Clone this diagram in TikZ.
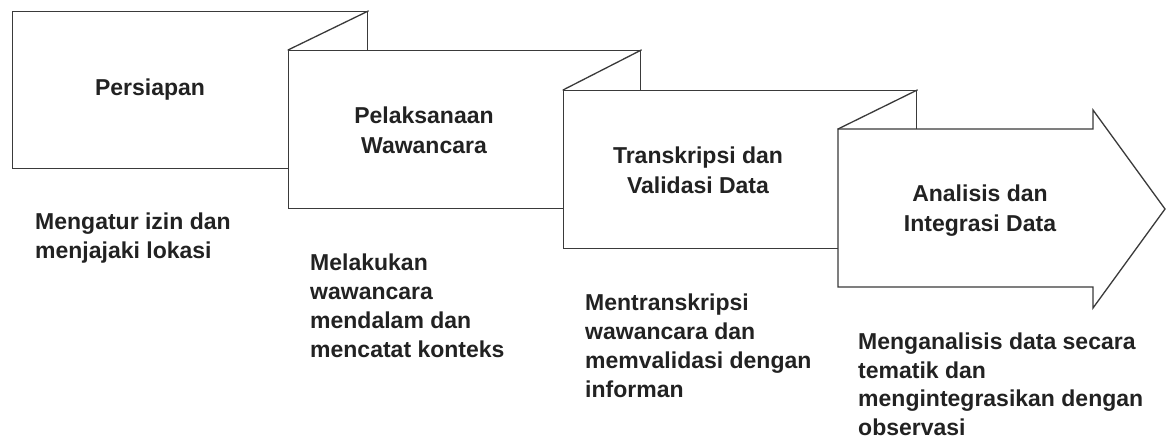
\documentclass[tikz,border=0pt]{standalone}
\usepackage{fontspec}
\setmainfont{Liberation Sans}
\definecolor{linec}{HTML}{3A3A3A}
\definecolor{textc}{HTML}{222222}
\begin{document}
\begin{tikzpicture}[x=1pt,y=-1pt,
  panel/.style={draw=linec, line width=1.3pt, fill=white, rectangle, inner sep=0pt, anchor=north west},
  fold/.style={draw=linec, line width=1.3pt, line cap=round},
  title/.style={font=\bfseries\fontsize{23}{30}\selectfont, text=textc, align=center, inner sep=0pt},
  desc/.style={font=\bfseries\fontsize{23}{29}\selectfont, text=textc, align=left, anchor=north west, inner sep=0pt},
  desclast/.style={desc, font=\bfseries\fontsize{23}{28.5}\selectfont},
]
\useasboundingbox (0,0) rectangle (1166,441);
% panels
\node[panel, minimum width=355pt, minimum height=157pt] (b1) at (12,11) {};
\node[panel, minimum width=352pt, minimum height=158pt] (b2) at (288,50) {};
\draw[fold] (b1.north east) -- (b2.north west);
\node[panel, minimum width=353pt, minimum height=158pt] (b3) at (563,90) {};
\draw[fold] (b2.north east) -- (b3.north west);
% arrow panel
\coordinate (a1) at (838,129);
\coordinate (a2) at (1093,129);
\coordinate (a3) at (1093,110);
\coordinate (a4) at (1165,209);
\coordinate (a5) at (1093,308);
\coordinate (a6) at (1093,287);
\coordinate (a7) at (838,287);
\draw[draw=linec, line width=1.3pt, fill=white, line join=miter] (a1) -- (a2) -- (a3) -- (a4) -- (a5) -- (a6) -- (a7) -- cycle;
\draw[fold] (b3.north east) -- (a1);
% titles
\node[title] (t1) at (150,90) {Persiapan};
\node[title] (t2) at (424,130) {Pelaksanaan\\Wawancara};
\node[title] (t3) at (698,170) {Transkripsi dan\\Validasi Data};
\node[title] (t4) at (980,211) {Analisis dan\\Integrasi Data};
% descriptions
\node[desc] (d1) at (35,213) {Mengatur izin dan\\menjajaki lokasi};
\node[desc] (d2) at (310,254) {Melakukan\\wawancara\\mendalam dan\\mencatat konteks};
\node[desc] (d3) at (585,294) {Mentranskripsi\\wawancara dan\\memvalidasi dengan\\informan};
\node[desclast] (d4) at (858,333) {Menganalisis data secara\\tematik dan\\mengintegrasikan dengan\\observasi};
\end{tikzpicture}
\end{document}
